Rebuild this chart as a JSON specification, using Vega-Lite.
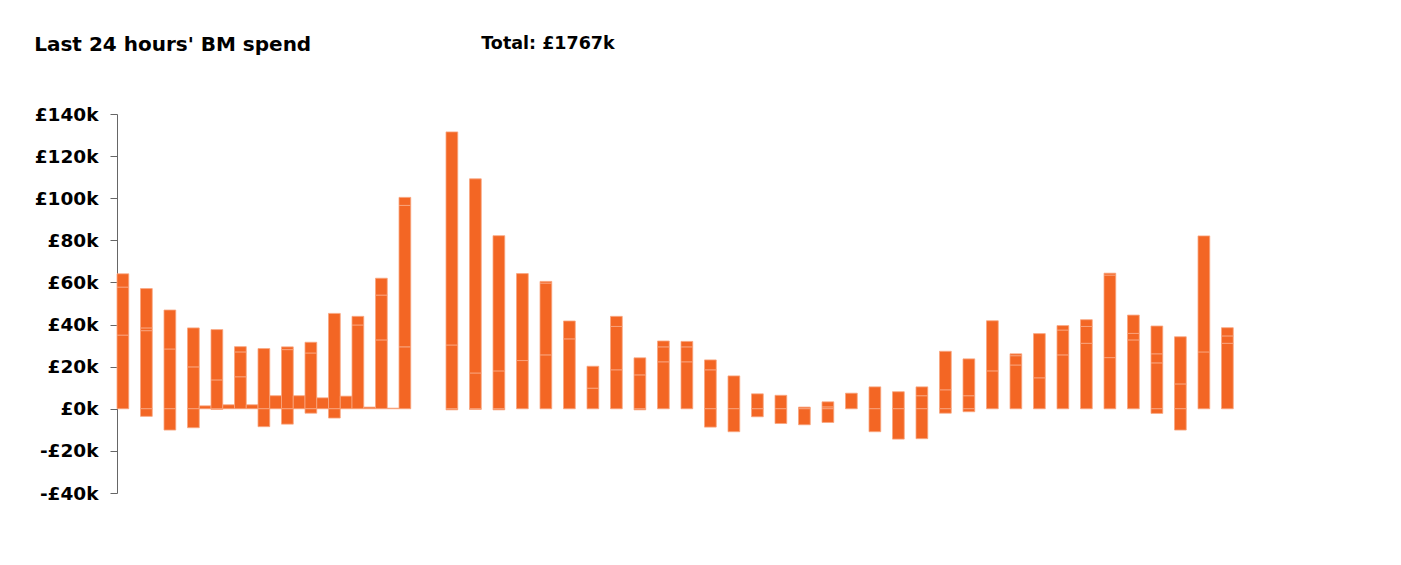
{
  "$schema": "https://vega.github.io/schema/vega-lite/v6.json",
  "width": 1128,
  "height": 379,
  "autosize": {"type": "none"},
  "padding": {"left": 117, "top": 114, "right": 156, "bottom": 72},
  "background": "white",
  "config": {"view": {"stroke": null}, "font": "DejaVu Sans"},
  "title": {"text": "Last 24 hours' BM spend", "anchor": "start", "frame": "bounds", "font": "DejaVu Sans", "fontSize": 20, "fontWeight": "bold", "color": "black", "offset": -20},
  "layer": [
    {
      "data": {"values": [
        {"slot":0,"seg":1,"spend":35.0},{"slot":0,"seg":2,"spend":22.8},{"slot":0,"seg":3,"spend":6.3},
        {"slot":2,"seg":1,"spend":37.1},{"slot":2,"seg":2,"spend":1.3},{"slot":2,"seg":3,"spend":18.7},{"slot":2,"seg":4,"spend":-3.6},
        {"slot":4,"seg":1,"spend":28.4},{"slot":4,"seg":2,"spend":18.5},{"slot":4,"seg":3,"spend":-10.1},
        {"slot":6,"seg":1,"spend":19.9},{"slot":6,"seg":2,"spend":18.5},{"slot":6,"seg":3,"spend":-9.0},
        {"slot":7,"seg":1,"spend":1.4},
        {"slot":8,"seg":1,"spend":13.7},{"slot":8,"seg":2,"spend":23.9},{"slot":8,"seg":3,"spend":-0.3},
        {"slot":9,"seg":1,"spend":1.9},
        {"slot":10,"seg":1,"spend":15.2},{"slot":10,"seg":2,"spend":11.8},{"slot":10,"seg":3,"spend":2.5},
        {"slot":11,"seg":1,"spend":1.9},
        {"slot":12,"seg":1,"spend":28.6},{"slot":12,"seg":2,"spend":-8.5},
        {"slot":13,"seg":1,"spend":6.2},
        {"slot":14,"seg":1,"spend":28.1},{"slot":14,"seg":2,"spend":1.3},{"slot":14,"seg":3,"spend":-7.3},
        {"slot":15,"seg":1,"spend":6.2},
        {"slot":16,"seg":1,"spend":26.5},{"slot":16,"seg":2,"spend":5.1},{"slot":16,"seg":3,"spend":-2.1},
        {"slot":17,"seg":1,"spend":5.2},
        {"slot":18,"seg":1,"spend":45.3},{"slot":18,"seg":2,"spend":-4.4},
        {"slot":19,"seg":1,"spend":6.0},
        {"slot":20,"seg":1,"spend":39.8},{"slot":20,"seg":2,"spend":4.1},
        {"slot":21,"seg":1,"spend":0.8},
        {"slot":22,"seg":1,"spend":32.7},{"slot":22,"seg":2,"spend":21.3},{"slot":22,"seg":3,"spend":8.0},
        {"slot":23,"seg":1,"spend":0.3},
        {"slot":24,"seg":1,"spend":29.4},{"slot":24,"seg":2,"spend":67.2},{"slot":24,"seg":3,"spend":3.8},
        {"slot":28,"seg":1,"spend":30.3},{"slot":28,"seg":2,"spend":101.2},{"slot":28,"seg":3,"spend":-0.5},
        {"slot":30,"seg":1,"spend":17.0},{"slot":30,"seg":2,"spend":92.2},{"slot":30,"seg":3,"spend":-0.3},
        {"slot":32,"seg":1,"spend":18.0},{"slot":32,"seg":2,"spend":64.2},{"slot":32,"seg":3,"spend":-0.5},
        {"slot":34,"seg":1,"spend":22.9},{"slot":34,"seg":2,"spend":41.3},
        {"slot":36,"seg":1,"spend":25.6},{"slot":36,"seg":2,"spend":34.1},{"slot":36,"seg":3,"spend":0.8},
        {"slot":38,"seg":1,"spend":33.2},{"slot":38,"seg":2,"spend":8.5},
        {"slot":40,"seg":1,"spend":9.8},{"slot":40,"seg":2,"spend":10.4},
        {"slot":42,"seg":1,"spend":18.5},{"slot":42,"seg":2,"spend":20.6},{"slot":42,"seg":3,"spend":4.8},
        {"slot":44,"seg":1,"spend":16.1},{"slot":44,"seg":2,"spend":8.1},{"slot":44,"seg":3,"spend":-0.5},
        {"slot":46,"seg":1,"spend":22.3},{"slot":46,"seg":2,"spend":7.1},{"slot":46,"seg":3,"spend":2.8},
        {"slot":48,"seg":1,"spend":22.3},{"slot":48,"seg":2,"spend":7.1},{"slot":48,"seg":3,"spend":2.6},
        {"slot":50,"seg":1,"spend":18.5},{"slot":50,"seg":2,"spend":4.7},{"slot":50,"seg":3,"spend":-8.7},
        {"slot":52,"seg":1,"spend":15.6},{"slot":52,"seg":2,"spend":-10.9},
        {"slot":54,"seg":1,"spend":7.1},{"slot":54,"seg":2,"spend":-3.8},
        {"slot":56,"seg":1,"spend":6.4},{"slot":56,"seg":2,"spend":-7.0},
        {"slot":58,"seg":1,"spend":0.8},{"slot":58,"seg":2,"spend":-7.6},
        {"slot":60,"seg":1,"spend":0.9},{"slot":60,"seg":2,"spend":2.4},{"slot":60,"seg":3,"spend":-6.5},
        {"slot":62,"seg":1,"spend":7.4},
        {"slot":64,"seg":1,"spend":10.4},{"slot":64,"seg":2,"spend":-10.9},
        {"slot":66,"seg":1,"spend":8.1},{"slot":66,"seg":2,"spend":-14.4},
        {"slot":68,"seg":1,"spend":6.2},{"slot":68,"seg":2,"spend":4.2},{"slot":68,"seg":3,"spend":-14.2},
        {"slot":70,"seg":1,"spend":9.0},{"slot":70,"seg":2,"spend":18.3},{"slot":70,"seg":3,"spend":-2.1},
        {"slot":72,"seg":1,"spend":6.2},{"slot":72,"seg":2,"spend":17.5},{"slot":72,"seg":3,"spend":-1.4},
        {"slot":74,"seg":1,"spend":18.0},{"slot":74,"seg":2,"spend":23.8},
        {"slot":76,"seg":1,"spend":20.8},{"slot":76,"seg":2,"spend":4.4},{"slot":76,"seg":3,"spend":0.9},
        {"slot":78,"seg":1,"spend":14.7},{"slot":78,"seg":2,"spend":21.0},
        {"slot":80,"seg":1,"spend":25.6},{"slot":80,"seg":2,"spend":11.8},{"slot":80,"seg":3,"spend":2.1},
        {"slot":82,"seg":1,"spend":31.1},{"slot":82,"seg":2,"spend":8.0},{"slot":82,"seg":3,"spend":3.2},
        {"slot":84,"seg":1,"spend":24.3},{"slot":84,"seg":2,"spend":39.2},{"slot":84,"seg":3,"spend":0.9},
        {"slot":86,"seg":1,"spend":32.7},{"slot":86,"seg":2,"spend":3.1},{"slot":86,"seg":3,"spend":8.7},
        {"slot":88,"seg":1,"spend":21.8},{"slot":88,"seg":2,"spend":4.3},{"slot":88,"seg":3,"spend":13.2},{"slot":88,"seg":4,"spend":-2.2},
        {"slot":90,"seg":1,"spend":11.8},{"slot":90,"seg":2,"spend":22.4},{"slot":90,"seg":3,"spend":-10.1},
        {"slot":92,"seg":1,"spend":27.0},{"slot":92,"seg":2,"spend":55.1},
        {"slot":94,"seg":1,"spend":31.1},{"slot":94,"seg":2,"spend":3.5},{"slot":94,"seg":3,"spend":3.9}
      ]},
      "mark": {"type": "bar", "color": "#F36624", "stroke": "#F9A680", "strokeWidth": 0.8},
      "encoding": {
        "x": {"field": "slot", "type": "ordinal", "axis": null,
          "scale": {"domain": [0,1,2,3,4,5,6,7,8,9,10,11,12,13,14,15,16,17,18,19,20,21,22,23,24,25,26,27,28,29,30,31,32,33,34,35,36,37,38,39,40,41,42,43,44,45,46,47,48,49,50,51,52,53,54,55,56,57,58,59,60,61,62,63,64,65,66,67,68,69,70,71,72,73,74,75,76,77,78,79,80,81,82,83,84,85,86,87,88,89,90,91,92,93,94,95], "paddingInner": 0, "paddingOuter": 0}},
        "y": {"field": "spend", "type": "quantitative", "stack": "zero",
          "scale": {"domain": [-40, 140], "nice": false, "zero": false},
          "axis": {"values": [-40,-20,0,20,40,60,80,100,120,140], "labelExpr": "(datum.value < 0 ? '-£' : '£') + abs(datum.value) + 'k'", "labelFont": "DejaVu Sans", "labelFontSize": 18.5, "labelFontWeight": "bold", "labelColor": "black", "labelPadding": 12, "tickSize": 7, "tickColor": "#666666", "domainColor": "#666666", "grid": false, "title": null}},
        "order": {"field": "seg", "type": "quantitative"}
      }
    },
    {
      "data": {"values": [{"label": "Total: £1767k"}]},
      "mark": {"type": "text", "align": "left", "baseline": "alphabetic", "font": "DejaVu Sans", "fontSize": 17.5, "fontWeight": "bold", "color": "black", "clip": false},
      "encoding": {
        "text": {"field": "label"},
        "x": {"datum": 31, "type": "ordinal", "bandPosition": 0},
        "y": {"datum": 171, "type": "quantitative"}
      }
    }
  ]
}
